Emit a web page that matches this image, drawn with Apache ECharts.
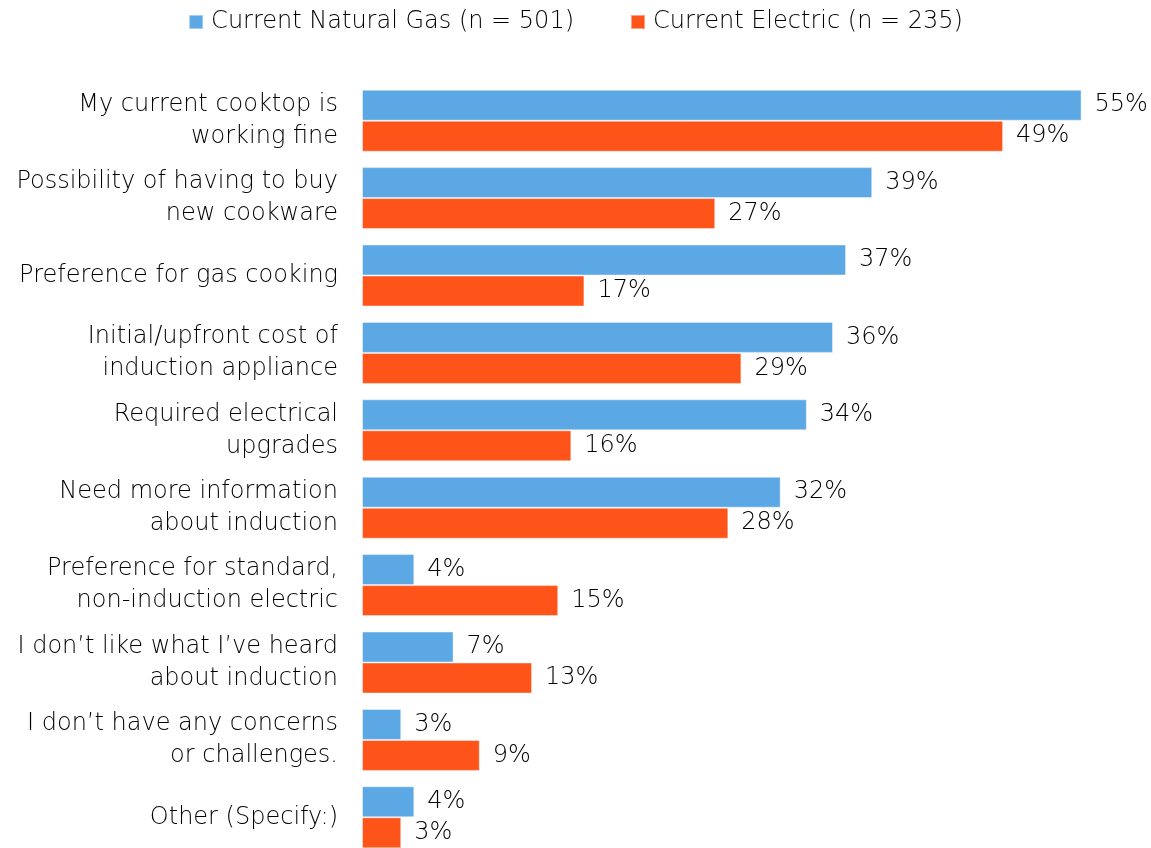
<!DOCTYPE html>
<html>
<head>
<meta charset="utf-8">
<script src="https://cdn.jsdelivr.net/npm/echarts@6/dist/echarts.min.js"></script>
<style>
  html, body { margin: 0; padding: 0; background: #fff; }
  #chart { width: 1151px; height: 848px; }
</style>
</head>
<body>
<div id="chart"></div>
<script>
  // concerns / challenges with induction cooktops
  const categories = [
    'My current cooktop is\nworking fine',
    'Possibility of having to buy\nnew cookware',
    'Preference for gas cooking',
    'Initial/upfront cost of\ninduction appliance',
    'Required electrical\nupgrades',
    'Need more information\nabout induction',
    'Preference for standard,\nnon-induction electric',
    'I don\u2019t like what I\u2019ve heard\nabout induction',
    'I don\u2019t have any concerns\nor challenges.',
    'Other (Specify:)'
  ]
  const gasValues = [55, 39, 37, 36, 34, 32, 4, 7, 3, 4]
  const electricValues = [49, 27, 17, 29, 16, 28, 15, 13, 9, 3]
  const seriesNames = ['Current Natural Gas (n = 501)', 'Current Electric (n = 235)']

  const font = '"DejaVu Sans", "Noto Sans", sans-serif'
  const weight = 200
  const textColor = '#000'

  let chart = echarts.init(document.getElementById('chart'))
  chart.setOption({
    color: ['#5BA8E4', '#FE5319'],
    textStyle: { fontFamily: font },
    legend: {
      top: 5,
      left: 'center',
      itemWidth: 14,
      itemHeight: 14,
      itemGap: 56,
      icon: 'rect',
      textStyle: { fontSize: 24, color: textColor, fontFamily: font, fontWeight: weight, padding: [0, 0, 0, 3] }
    },
    grid: {
      left: 362,
      top: 82,
      width: 785,
      height: 774,
      outerBoundsMode: 'none'
    },
    xAxis: {
      type: 'value',
      min: 0,
      max: 60,
      show: false
    },
    yAxis: {
      type: 'category',
      data: categories,
      inverse: true,
      axisLine: { show: false },
      axisTick: { show: false },
      axisLabel: {
        margin: 24,
        fontSize: 24,
        lineHeight: 32,
        color: textColor,
        align: 'right',
        fontFamily: font,
        fontWeight: weight
      }
    },
    series: [{
      name: seriesNames[0],
      type: 'bar',
      data: gasValues,
      barWidth: 31,
      barGap: '0%',
      itemStyle: { borderColor: 'rgba(255,255,255,0.45)', borderWidth: 1 },
      label: {
        show: true,
        position: 'right',
        distance: 13,
        fontSize: 24,
        color: textColor,
        fontFamily: font,
        fontWeight: weight,
        formatter: p => p.value + '%'
      }
    }, {
      name: seriesNames[1],
      type: 'bar',
      data: electricValues,
      barWidth: 31,
      itemStyle: { borderColor: 'rgba(255,255,255,0.45)', borderWidth: 1 },
      label: {
        show: true,
        position: 'right',
        distance: 13,
        fontSize: 24,
        color: textColor,
        fontFamily: font,
        fontWeight: weight,
        formatter: p => p.value + '%'
      }
    }]
  })
</script>
</body>
</html>
